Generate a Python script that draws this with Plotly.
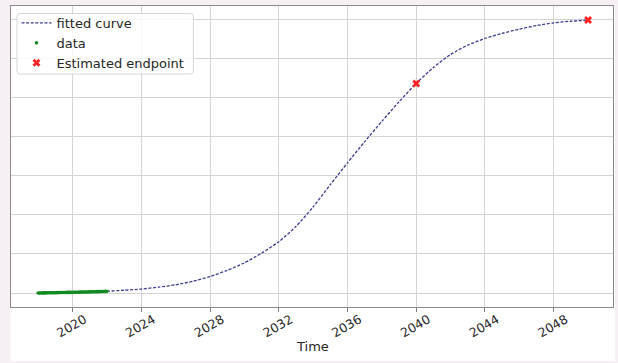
import plotly.graph_objects as go

# Observed series: monthly values, Jan 2018 .. Jan 2022
data_start_year = 2018
data_values = [
    0.000, 0.001, 0.001, 0.002, 0.003, 0.003, 0.004, 0.005, 0.005, 0.006, 0.007, 0.008,
    0.008, 0.009, 0.010, 0.011, 0.011, 0.012, 0.013, 0.014, 0.015, 0.015, 0.016, 0.017,
    0.018, 0.019, 0.020, 0.021, 0.021, 0.022, 0.023, 0.024, 0.025, 0.026, 0.027, 0.028,
    0.029, 0.030, 0.031, 0.032, 0.033, 0.034, 0.035, 0.036, 0.037, 0.039, 0.040, 0.041, 0.042,
]
data_years = [data_start_year + i / 12 for i in range(len(data_values))]

# Fitted logistic curve, sampled yearly
fit_years = list(range(2018, 2051))
fit_values = [
    0.000, 0.008, 0.018, 0.030, 0.045, 0.070, 0.100, 0.150, 0.210, 0.300, 0.420,
    0.580, 0.770, 1.020, 1.310, 1.700, 2.200, 2.770, 3.330, 3.870, 4.390, 4.890,
    5.360, 5.770, 6.100, 6.340, 6.510, 6.640, 6.750, 6.840, 6.910, 6.950, 6.980,
]

# Estimated endpoints
end_years = [2040, 2050]
end_values = [5.36, 6.98]

x_ticks = [2020, 2024, 2028, 2032, 2036, 2040, 2044, 2048]
y_grid = [0, 1, 2, 3, 4, 5, 6, 7]

FONT = "DejaVu Sans"
TEXT = "#262626"

# plot-area geometry in pixels (used for paper-coordinate decorations)
W, H = 618, 363
ML, MR, MT, MB = 10.5, 5, 6, 56
PW, PH = W - ML - MR, H - MT - MB


def px(x):
    return (x - ML) / PW


def py(y):
    return 1 - (y - MT) / PH


fig = go.Figure()

fig.add_trace(go.Scatter(
    x=fit_years, y=fit_values, mode="lines", name="fitted curve",
    line=dict(color="#3c3c92", width=1.3, dash="3px,1.6px", shape="spline", smoothing=0.6),
))
fig.add_trace(go.Scatter(
    x=data_years, y=data_values, mode="markers", name="data",
    marker=dict(color="#128a22", size=3.6, line=dict(width=0)),
))
fig.add_trace(go.Scatter(
    x=end_years, y=end_values, mode="markers", name="Estimated endpoint",
    marker=dict(color="#ff2424", size=7, symbol="x", line=dict(width=0)),
))

# white figure panel on a tinted page
fig.add_shape(type="rect", xref="paper", yref="paper",
              x0=px(10), x1=px(615), y0=py(361), y1=1.0,
              fillcolor="white", line=dict(width=0), layer="below")

# legend frame with rounded corners
lx0, lx1, ly0, ly1, r = 16.5, 193, 13.5, 74, 3
frame = (
    f"M {px(lx0 + r)} {py(ly0)} L {px(lx1 - r)} {py(ly0)} "
    f"Q {px(lx1)} {py(ly0)} {px(lx1)} {py(ly0 + r)} "
    f"L {px(lx1)} {py(ly1 - r)} Q {px(lx1)} {py(ly1)} {px(lx1 - r)} {py(ly1)} "
    f"L {px(lx0 + r)} {py(ly1)} Q {px(lx0)} {py(ly1)} {px(lx0)} {py(ly1 - r)} "
    f"L {px(lx0)} {py(ly0 + r)} Q {px(lx0)} {py(ly0)} {px(lx0 + r)} {py(ly0)} Z"
)
fig.add_shape(type="path", xref="paper", yref="paper", path=frame,
              fillcolor="rgba(255,255,255,0.8)", line=dict(color="#d6d6d6", width=1),
              layer="above")

fig.update_layout(
    width=W, height=H,
    margin=dict(l=ML, r=MR, t=MT, b=MB),
    paper_bgcolor="#f6f0f4",
    plot_bgcolor="white",
    font=dict(family=FONT, size=12.5, color=TEXT),
    showlegend=True,
    legend=dict(
        x=px(16), y=py(8), xanchor="left", yanchor="top",
        bgcolor="rgba(0,0,0,0)", borderwidth=0,
        font=dict(family=FONT, size=13, color=TEXT),
        tracegroupgap=0,
    ),
    xaxis=dict(
        range=[2016.42, 2051.45],
        tickmode="array", tickvals=x_ticks, ticktext=[str(t) for t in x_ticks],
        tickangle=-30, ticklabelshift=12, ticklabelstandoff=-4,
        ticks="outside", ticklen=3.5, tickcolor="#808080", tickwidth=1,
        showgrid=True, gridcolor="#d4d4d4", gridwidth=1.2,
        showline=True, linecolor="#8a8a8a", linewidth=1.2, mirror=True,
        zeroline=False,
        tickfont=dict(family=FONT, size=12.5, color=TEXT),
    ),
    yaxis=dict(
        range=[-0.358, 7.34],
        tickmode="array", tickvals=y_grid,
        showticklabels=False, ticks="",
        showgrid=True, gridcolor="#d4d4d4", gridwidth=1.2,
        showline=True, linecolor="#8a8a8a", linewidth=1.2, mirror=True,
        zeroline=False,
    ),
    annotations=[dict(
        text="Time", xref="paper", yref="paper", x=px(312.5), y=py(346.7),
        xanchor="center", yanchor="middle", showarrow=False,
        font=dict(family=FONT, size=13, color=TEXT),
    )],
)

fig.write_html("out.html")
